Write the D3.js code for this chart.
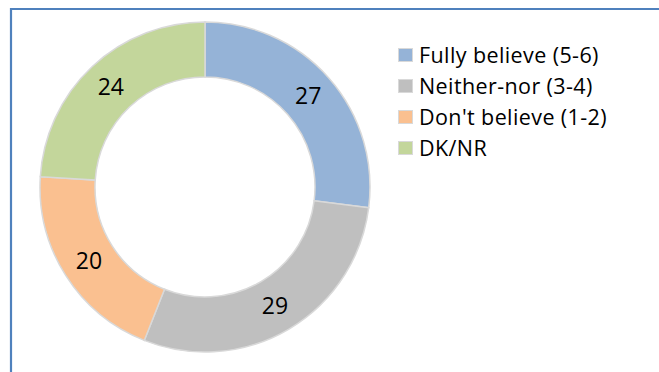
<!DOCTYPE html>
<html>
<head>
<meta charset="utf-8">
<script src="https://cdn.jsdelivr.net/npm/d3@7"></script>
<style>
  html, body { margin: 0; padding: 0; background: #fff; }
  svg { display: block; }
  text { font-family: "Open Sans", Lato, sans-serif; fill: #000; }
</style>
</head>
<body>
<svg id="chart" width="659" height="372"></svg>
<script>
// Survey answers, in drawing order (clockwise from 12 o'clock)
const categories = ["Fully believe (5-6)", "Neither-nor (3-4)", "Don't believe (1-2)", "DK/NR"];
const values = [27, 29, 20, 24];
const colors = ["#95B3D7", "#BFBFBF", "#FAC090", "#C3D69B"];

const svg = d3.select("#chart");
const W = 659, H = 372;

// Frame around the chart area
svg.append("path")
  .attr("d", `M${W + 5},9 H11 V${H + 5}`)
  .attr("fill", "none")
  .attr("stroke", "#4F81BD")
  .attr("stroke-width", 2.2);

const cx = 205, cy = 187, outerR = 165, innerR = 110;

const data = categories.map((c, i) => ({ category: c, value: values[i], color: colors[i] }));

const pie = d3.pie().value(d => d.value).sort(null);
const arc = d3.arc().innerRadius(innerR).outerRadius(outerR);
const labelArc = d3.arc().innerRadius((innerR + outerR) / 2).outerRadius((innerR + outerR) / 2);

const g = svg.append("g").attr("transform", `translate(${cx},${cy})`);
const arcs = pie(data);

g.selectAll("path.slice")
  .data(arcs)
  .join("path")
  .attr("class", "slice")
  .attr("d", arc)
  .attr("fill", d => d.data.color)
  .attr("stroke", "#D9D9D9")
  .attr("stroke-width", 1.5);

g.selectAll("text.val")
  .data(arcs)
  .join("text")
  .attr("class", "val")
  .attr("transform", d => `translate(${labelArc.centroid(d)})`)
  .attr("text-anchor", "middle")
  .attr("dy", "0.36em")
  .style("font-size", "23px")
  .text(d => d.data.value);

// Legend
const legend = svg.append("g").attr("transform", "translate(398,40)");
const row = 31;
const items = legend.selectAll("g.item")
  .data(data)
  .join("g")
  .attr("class", "item")
  .attr("transform", (d, i) => `translate(0,${i * row})`);

items.append("rect")
  .attr("x", 0.5).attr("y", 8.5)
  .attr("width", 14).attr("height", 13)
  .attr("fill", d => d.color)
  .attr("stroke", "#D9D9D9")
  .attr("stroke-width", 1);

items.append("text")
  .attr("x", 21)
  .attr("y", 22.5)
  .style("font-size", "21.5px")
  .style("letter-spacing", "0.4px")
  .text(d => d.category);
</script>
</body>
</html>
